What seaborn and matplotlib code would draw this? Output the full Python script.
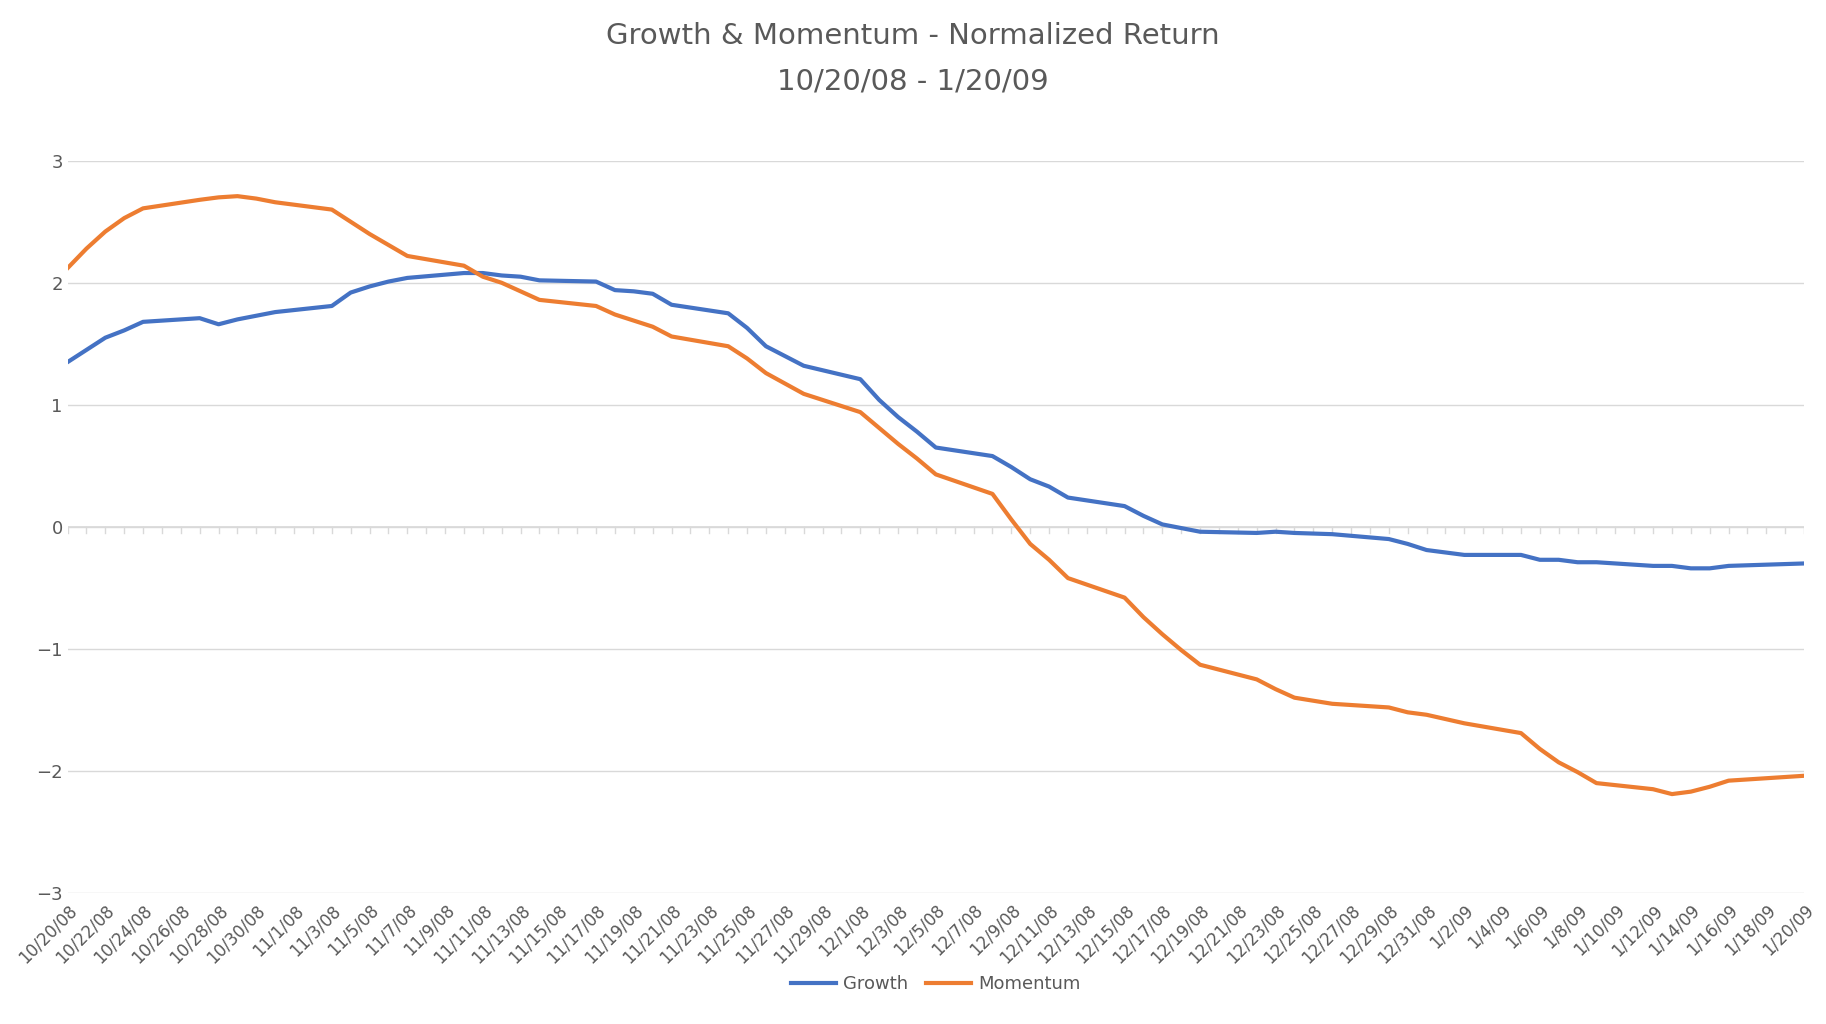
import matplotlib
matplotlib.use("Agg")
import matplotlib.pyplot as plt
import seaborn as sns
import pandas as pd

dates = ["2008-10-20","2008-10-21","2008-10-22","2008-10-23","2008-10-24",
 "2008-10-27","2008-10-28","2008-10-29","2008-10-30","2008-10-31",
 "2008-11-03","2008-11-04","2008-11-05","2008-11-06","2008-11-07",
 "2008-11-10","2008-11-11","2008-11-12","2008-11-13","2008-11-14",
 "2008-11-17","2008-11-18","2008-11-19","2008-11-20","2008-11-21",
 "2008-11-24","2008-11-25","2008-11-26","2008-11-28",
 "2008-12-01","2008-12-02","2008-12-03","2008-12-04","2008-12-05",
 "2008-12-08","2008-12-09","2008-12-10","2008-12-11","2008-12-12",
 "2008-12-15","2008-12-16","2008-12-17","2008-12-18","2008-12-19",
 "2008-12-22","2008-12-23","2008-12-24","2008-12-26",
 "2008-12-29","2008-12-30","2008-12-31","2009-01-02",
 "2009-01-05","2009-01-06","2009-01-07","2009-01-08","2009-01-09",
 "2009-01-12","2009-01-13","2009-01-14","2009-01-15","2009-01-16","2009-01-20"]
growth = [1.35,1.45,1.55,1.61,1.68, 1.71,1.66,1.70,1.73,1.76,
 1.81,1.92,1.97,2.01,2.04, 2.08,2.08,2.06,2.05,2.02,
 2.01,1.94,1.93,1.91,1.82, 1.75,1.63,1.48,1.32,
 1.21,1.04,0.90,0.78,0.65, 0.58,0.49,0.39,0.33,0.24,
 0.17,0.09,0.02,-0.01,-0.04, -0.05,-0.04,-0.05,-0.06,
 -0.10,-0.14,-0.19,-0.23, -0.23,-0.27,-0.27,-0.29,-0.29,
 -0.32,-0.32,-0.34,-0.34,-0.32,-0.30]
momentum = [2.12,2.28,2.42,2.53,2.61, 2.68,2.70,2.71,2.69,2.66,
 2.60,2.50,2.40,2.31,2.22, 2.14,2.05,2.00,1.93,1.86,
 1.81,1.74,1.69,1.64,1.56, 1.48,1.38,1.26,1.09,
 0.94,0.81,0.68,0.56,0.43, 0.27,0.06,-0.14,-0.27,-0.42,
 -0.58,-0.74,-0.88,-1.01,-1.13, -1.25,-1.33,-1.40,-1.45,
 -1.48,-1.52,-1.54,-1.61, -1.69,-1.82,-1.93,-2.01,-2.10,
 -2.15,-2.19,-2.17,-2.13,-2.08,-2.04]

d = pd.to_datetime(dates)
start = d[0]
day = (d - start).days
df = pd.DataFrame({"day": list(day)*2, "value": growth+momentum,
                   "series": ["Growth"]*len(growth)+["Momentum"]*len(momentum)})

fig = plt.figure(figsize=(18.26,10.24), dpi=100)
ax = fig.add_axes([0.037,0.128,0.951,0.715])
sns.lineplot(data=df, x="day", y="value", hue="series",
             palette={"Growth":"#4472C4","Momentum":"#ED7D31"}, linewidth=3, ax=ax)
ax.set_ylim(-3,3)
ax.set_yticks(range(-3,4))
ax.set_xlim(0, 92)
ticks = list(range(0,93,2))
labs = [f"{t.month}/{t.day}/{t.strftime('%y')}" for t in (start+pd.to_timedelta(ticks,unit="D"))]
ax.set_xticks(ticks)
ax.set_xticklabels(labs)
plt.setp(ax.get_xticklabels(), rotation=45, ha="right", rotation_mode="anchor",
         fontsize=12, color="#595959")
ax.tick_params(axis="y", labelsize=13, colors="#595959", length=0)
ax.tick_params(axis="x", length=0, pad=6)
ax.grid(axis="y", color="#D9D9D9", linewidth=1)
ax.axhline(0, color="#D9D9D9", linewidth=1.2, zorder=0)
for x in range(0, 93):
    ax.plot([x, x], [0, -0.05], color="#D9D9D9", linewidth=1, zorder=0)
ax.set_axisbelow(True)
for s in ["top","right","left","bottom"]:
    ax.spines[s].set_visible(False)
ax.set_xlabel(""); ax.set_ylabel("")
ax.legend(loc="upper center", bbox_to_anchor=(0.5,-0.09), ncol=2, frameon=False, fontsize=13,
          labelcolor="#595959", handlelength=2.5, columnspacing=1.0, handletextpad=0.4)
fig.text(0.5, 0.965, "Growth & Momentum - Normalized Return", ha="center", va="center",
         fontsize=21, color="#595959")
fig.text(0.5, 0.92, "10/20/08 - 1/20/09", ha="center", va="center",
         fontsize=21, color="#595959")
fig.savefig("out.png", dpi=100)
